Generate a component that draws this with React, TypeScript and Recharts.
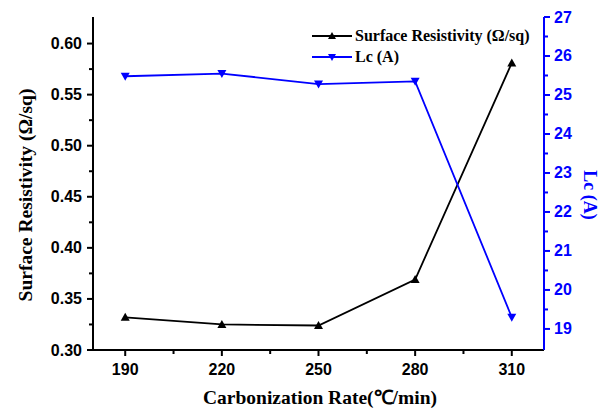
import React from 'react';
import { ComposedChart, Line, XAxis, YAxis, Legend, Label } from 'recharts';

// carbonization rate (°C/min) and the two measured series
const rates = [190, 220, 250, 280, 310];
const resistivity = [0.332, 0.325, 0.324, 0.369, 0.581];
const lcValues = [25.48, 25.55, 25.28, 25.35, 19.3];

// tick positions
const xMajor = [190, 220, 250, 280, 310];
const xMinor = [205, 235, 265, 295];
const leftMajor = [0.3, 0.35, 0.4, 0.45, 0.5, 0.55, 0.6];
const leftMinor = [0.325, 0.375, 0.425, 0.475, 0.525, 0.575];
const rightMajor = [19, 20, 21, 22, 23, 24, 25, 26, 27];
const rightMinor = [19.5, 20.5, 21.5, 22.5, 23.5, 24.5, 25.5, 26.5];

const data = rates.map((rate, i) => ({ rate, resistivity: resistivity[i], lc: lcValues[i] }));

const BLUE = '#0000ff';
const SANS = '"Liberation Sans", Arial, sans-serif';
const SERIF = '"Liberation Serif", "Times New Roman", serif';

const XTick = (props: any) => {
  const { x, y, payload } = props;
  const major = xMajor.includes(payload.value);
  return (
    <g>
      <line x1={x} x2={x} y1={y} y2={y + (major ? 6 : 4)} stroke="#000" strokeWidth={2} />
      {major && (
        <text x={x} y={y + 25} textAnchor="middle" fontFamily={SANS} fontWeight="bold" fontSize={16} fill="#000">
          {payload.value}
        </text>
      )}
    </g>
  );
};

const LeftTick = (props: any) => {
  const { x, y, payload } = props;
  const major = leftMajor.some((v) => Math.abs(v - payload.value) < 1e-6);
  return (
    <g>
      <line x1={x} x2={x - (major ? 6 : 4)} y1={y} y2={y} stroke="#000" strokeWidth={2} />
      {major && (
        <text x={x - 11} y={y + 5.5} textAnchor="end" fontFamily={SANS} fontWeight="bold" fontSize={16} fill="#000">
          {payload.value.toFixed(2)}
        </text>
      )}
    </g>
  );
};

const RightTick = (props: any) => {
  const { x, y, payload } = props;
  const major = rightMajor.includes(payload.value);
  return (
    <g>
      <line x1={x} x2={x + (major ? 6 : 4)} y1={y} y2={y} stroke={BLUE} strokeWidth={2} />
      {major && (
        <text x={x + 10} y={y + 5.5} textAnchor="start" fontFamily={SANS} fontWeight="bold" fontSize={16} fill={BLUE}>
          {payload.value}
        </text>
      )}
    </g>
  );
};

const UpTriangle = (props: any) => {
  const { cx, cy } = props;
  if (cx == null || cy == null) return null;
  return <path d={`M${cx},${cy - 4.5} L${cx + 4.5},${cy + 3.5} L${cx - 4.5},${cy + 3.5} Z`} fill="#000" />;
};

const DownTriangle = (props: any) => {
  const { cx, cy } = props;
  if (cx == null || cy == null) return null;
  return <path d={`M${cx},${cy + 4.5} L${cx + 4.5},${cy - 3.5} L${cx - 4.5},${cy - 3.5} Z`} fill={BLUE} />;
};

const legendItems = [
  { label: 'Surface Resistivity (Ω/sq)', color: '#000', down: false },
  { label: 'Lc (A)', color: BLUE, down: true },
];

const renderLegend = () => (
  <div>
    {legendItems.map((item) => (
      <div key={item.label} style={{ display: 'flex', alignItems: 'center', height: 21 }}>
        <svg width={42} height={12} style={{ marginRight: 1 }}>
          <line x1={0} x2={40} y1={6} y2={6} stroke={item.color} strokeWidth={1.8} />
          <path
            d={item.down ? 'M20,10 L24,3 L16,3 Z' : 'M20,2 L24,9 L16,9 Z'}
            fill={item.color}
          />
        </svg>
        <span style={{ fontFamily: SERIF, fontWeight: 'bold', fontSize: 16, color: '#000', whiteSpace: 'nowrap' }}>
          {item.label}
        </span>
      </div>
    ))}
  </div>
);

const App: React.FC = () => {
  return (
    <div style={{ position: 'absolute', left: 0, top: 0 }}>
      <ComposedChart width={602} height={408} data={data} margin={{ top: 17, right: 0, left: 0, bottom: 0 }}>
        <XAxis
          dataKey="rate"
          type="number"
          domain={[180, 320]}
          ticks={[...xMajor, ...xMinor].sort((a, b) => a - b)}
          interval={0}
          height={58}
          tickSize={0}
          tickMargin={0}
          tickLine={false}
          tick={<XTick />}
          axisLine={{ stroke: '#000', strokeWidth: 2 }}
          allowDataOverflow
        >
          <Label
            content={() => (
              <text x={320} y={404} textAnchor="middle" fontFamily={SERIF} fontWeight="bold" fontSize={19.5} fill="#000">
                Carbonization Rate(℃/min)
              </text>
            )}
          />
        </XAxis>
        <XAxis
          xAxisId="top"
          orientation="top"
          type="number"
          domain={[180, 320]}
          height={0}
          tick={false}
          tickLine={false}
          axisLine={{ stroke: '#000', strokeWidth: 2 }}
        />
        <YAxis
          yAxisId="left"
          type="number"
          domain={[0.3, 0.626]}
          ticks={[...leftMajor, ...leftMinor].sort((a, b) => a - b)}
          interval={0}
          width={93}
          tickSize={0}
          tickMargin={0}
          tickLine={false}
          tick={<LeftTick />}
          axisLine={{ stroke: '#000', strokeWidth: 2 }}
          allowDataOverflow
        >
          <Label
            content={() => (
              <text
                x={32}
                y={195}
                transform="rotate(-90 32 195)"
                textAnchor="middle"
                fontFamily={SERIF}
                fontWeight="bold"
                fontSize={19.5}
                fill="#000"
              >
                Surface Resistivity (Ω/sq)
              </text>
            )}
          />
        </YAxis>
        <YAxis
          yAxisId="right"
          orientation="right"
          type="number"
          domain={[18.46, 27]}
          ticks={[...rightMajor, ...rightMinor].sort((a, b) => a - b)}
          interval={0}
          width={58}
          tickSize={0}
          tickMargin={0}
          tickLine={false}
          tick={<RightTick />}
          axisLine={{ stroke: BLUE, strokeWidth: 2 }}
          allowDataOverflow
        >
          <Label
            content={() => (
              <text
                x={584}
                y={195}
                transform="rotate(90 584 195)"
                textAnchor="middle"
                fontFamily={SERIF}
                fontWeight="bold"
                fontSize={18}
                fill={BLUE}
              >
                Lc (A)
              </text>
            )}
          />
        </YAxis>
        <Legend
          layout="horizontal"
          verticalAlign="middle"
          align="center"
          content={renderLegend}
          wrapperStyle={{ position: 'absolute', left: 312, top: 25, width: 240 }}
        />
        <Line
          yAxisId="left"
          type="linear"
          dataKey="resistivity"
          stroke="#000"
          strokeWidth={1.8}
          dot={<UpTriangle />}
          activeDot={false}
          isAnimationActive={false}
        />
        <Line
          yAxisId="right"
          type="linear"
          dataKey="lc"
          stroke={BLUE}
          strokeWidth={1.8}
          dot={<DownTriangle />}
          activeDot={false}
          isAnimationActive={false}
        />
      </ComposedChart>
    </div>
  );
};

export default App;
